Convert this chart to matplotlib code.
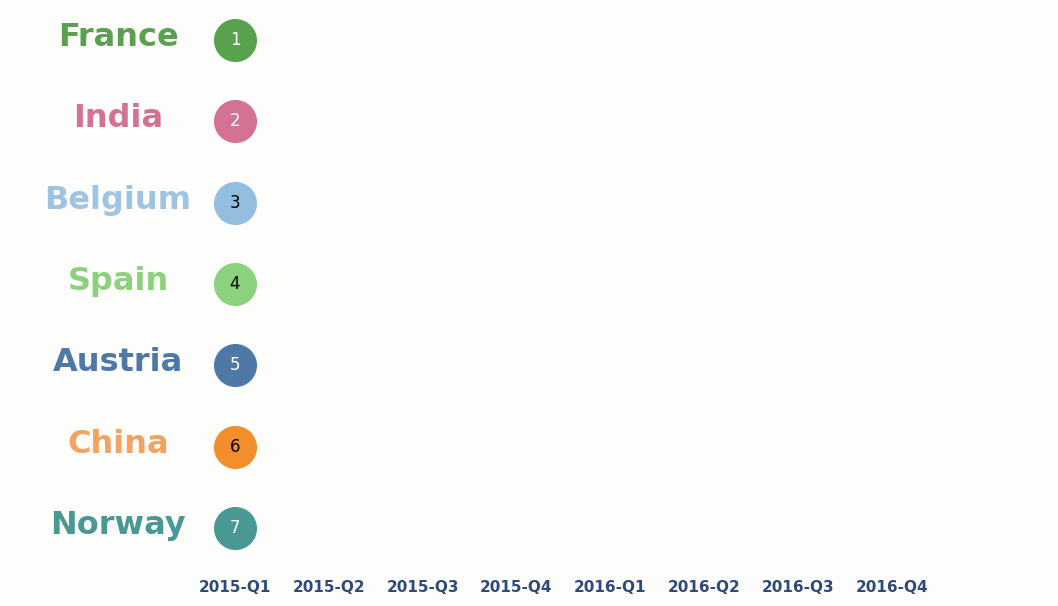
import matplotlib
matplotlib.use("Agg")
import matplotlib.pyplot as plt

quarters = ["2015-Q1", "2015-Q2", "2015-Q3", "2015-Q4", "2016-Q1", "2016-Q2", "2016-Q3", "2016-Q4"]
countries = ["France", "India", "Belgium", "Spain", "Austria", "China", "Norway"]
ranks_q1 = [1, 2, 3, 4, 5, 6, 7]
colors = ["#59a14f", "#d37295", "#92bfe0", "#8cd17d", "#4e79a7", "#f28e2b", "#499894"]
label_colors = ["#59a14f", "#d37295", "#9ec4e2", "#8cd17d", "#4e79a7", "#f4a35e", "#499894"]
num_colors = ["white", "white", "black", "black", "white", "black", "white"]

W, H = 1058, 606
fig = plt.figure(figsize=(W / 100, H / 100), dpi=100)
bg = "#fdfdfc"
fig.patch.set_facecolor(bg)
ax = fig.add_axes([0, 36 / H, 1, 570 / H])
ax.set_facecolor(bg)

x0px, dx = 235, 93.8
ax.set_xlim(-x0px / dx, (W - x0px) / dx)
ax.set_ylim(7 + 42 / 81.33, 1 - 40 / 81.33)

for c, r, col, lcol, ncol in zip(countries, ranks_q1, colors, label_colors, num_colors):
    ax.plot([0], [r], "o", ms=30, color=col, mec=col, zorder=3)
    ax.text(0, r, str(r), ha="center", va="center", fontsize=12, color=ncol, zorder=4)
    ax.text((118 - x0px) / dx, r - 0.03, c, ha="center", va="center", fontsize=23,
            fontweight="heavy", color=lcol, family="DejaVu Sans")

ax.set_xticks(range(len(quarters)))
ax.set_xticklabels(quarters, fontsize=11, fontweight="bold", color="#2e4a7a")
ax.tick_params(axis="x", length=0, pad=7)
ax.set_yticks([])
for s in ax.spines.values():
    s.set_visible(False)

fig.savefig("out.png", dpi=100, facecolor=bg)
